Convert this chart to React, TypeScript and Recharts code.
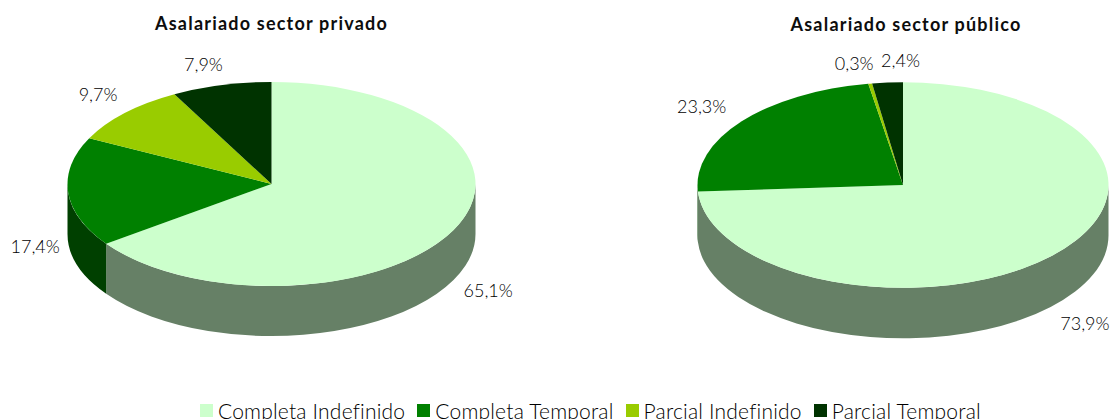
import { PieChart, Pie, Cell, Legend } from 'recharts';

const categories = ['Completa Indefinido', 'Completa Temporal', 'Parcial Indefinido', 'Parcial Temporal'];
const privateValues = [65.1, 17.4, 9.7, 7.9];
const publicValues = [73.9, 23.3, 0.3, 2.4];
const topColors = ['#CCFFCC', '#008000', '#99CC00', '#003300'];
const wallColors = ['#668066', '#004000', '#4D6600', '#001A00'];

// label shift from the rim point at the middle of each slice
const privateShift = [[35, 60], [-33, 54], [-27, -19], [-18, -21]];
const publicShift = [[32, 68], [-40, -15], [-16, -21], [13, -23]];

const FONT = 'Lato, sans-serif';
const SQUASH = 0.5;
const RAD = Math.PI / 180;

const toData = (values: number[]) => categories.map((name, i) => ({ name, value: values[i] }));
const fmt = (v: number) => `${v.toFixed(1).replace('.', ',')}%`;

const slice3d = (depth: number) => (props: any) => {
  const { cx, cy, outerRadius, startAngle, endAngle, index } = props;
  const rx = outerRadius;
  const ry = outerRadius * SQUASH;
  const pt = (a: number, dy = 0) => `${cx + rx * Math.cos(a * RAD)} ${cy - ry * Math.sin(a * RAD) + dy}`;
  const large = startAngle - endAngle > 180 ? 1 : 0;
  const from = Math.min(startAngle, 0);
  const to = Math.max(endAngle, -180);
  return (
    <g>
      {from > to && (
        <path
          d={`M ${pt(from)} A ${rx} ${ry} 0 0 1 ${pt(to)} L ${pt(to, depth)} A ${rx} ${ry} 0 0 0 ${pt(from, depth)} Z`}
          fill={wallColors[index]}
        />
      )}
      <path
        d={`M ${cx} ${cy} L ${pt(startAngle)} A ${rx} ${ry} 0 ${large} 1 ${pt(endAngle)} Z`}
        fill={topColors[index]}
      />
    </g>
  );
};

const rimLabel = (shift: number[][]) => (props: any) => {
  const { cx, cy, outerRadius, midAngle, index, value } = props;
  const x = cx + outerRadius * Math.cos(midAngle * RAD) + shift[index][0];
  const y = cy - outerRadius * SQUASH * Math.sin(midAngle * RAD) + shift[index][1];
  return (
    <text x={x} y={y} textAnchor="middle" dominantBaseline="central" fontFamily={FONT} fontWeight={300} fontSize={18} fill="#000">
      {fmt(value)}
    </text>
  );
};

const LegendRow = ({ payload }: any) => {
  // both pies feed the legend, one row of each category is enough
  const rows = (payload || []).filter((entry: any) => entry.type !== 'none').slice(0, categories.length);
  return (
    <div style={{ display: 'flex', alignItems: 'center', fontFamily: FONT, fontWeight: 300, fontSize: 21, letterSpacing: 0.2, color: '#000', whiteSpace: 'nowrap' }}>
      {rows.map((entry: any, i: number) => (
        <span key={entry.value} style={{ display: 'inline-flex', alignItems: 'center', marginRight: 12 }}>
          <span style={{ width: 13, height: 13, background: topColors[i], marginRight: 5, display: 'inline-block' }} />
          {entry.value}
        </span>
      ))}
    </div>
  );
};

export default function App() {
  return (
    <div style={{ position: 'absolute', left: 0, top: 0, width: 1111, height: 419, overflow: 'hidden', background: '#fff' }}>
      <PieChart width={1111} height={440} margin={{ top: 0, right: 0, bottom: 0, left: 0 }}>
        <text x={271.5} y={30} textAnchor="middle" fontFamily={FONT} fontWeight={700} fontSize={18} letterSpacing={1.2} fill="#0D0D0D">
          Asalariado sector privado
        </text>
        <text x={906} y={31} textAnchor="middle" fontFamily={FONT} fontWeight={700} fontSize={18} letterSpacing={1.2} fill="#0D0D0D">
          Asalariado sector público
        </text>
        <Pie
          data={toData(privateValues)}
          dataKey="value"
          nameKey="name"
          cx={271.5}
          cy={184}
          outerRadius={204}
          startAngle={90}
          endAngle={-270}
          legendType="none"
          isAnimationActive={false}
          shape={slice3d(50)}
          label={rimLabel(privateShift)}
          labelLine={false}
        >
          {categories.map((c, i) => <Cell key={c} fill={topColors[i]} />)}
        </Pie>
        <Pie
          data={toData(publicValues)}
          dataKey="value"
          nameKey="name"
          cx={903}
          cy={185}
          outerRadius={205.5}
          startAngle={90}
          endAngle={-270}
          isAnimationActive={false}
          shape={slice3d(50.5)}
          label={rimLabel(publicShift)}
          labelLine={false}
        >
          {categories.map((c, i) => <Cell key={c} fill={topColors[i]} />)}
        </Pie>
        <Legend
          content={<LegendRow />}
          verticalAlign="bottom"
          wrapperStyle={{ position: 'absolute', left: 200, top: 398, bottom: 'auto', width: 800 }}
        />
      </PieChart>
    </div>
  );
}
